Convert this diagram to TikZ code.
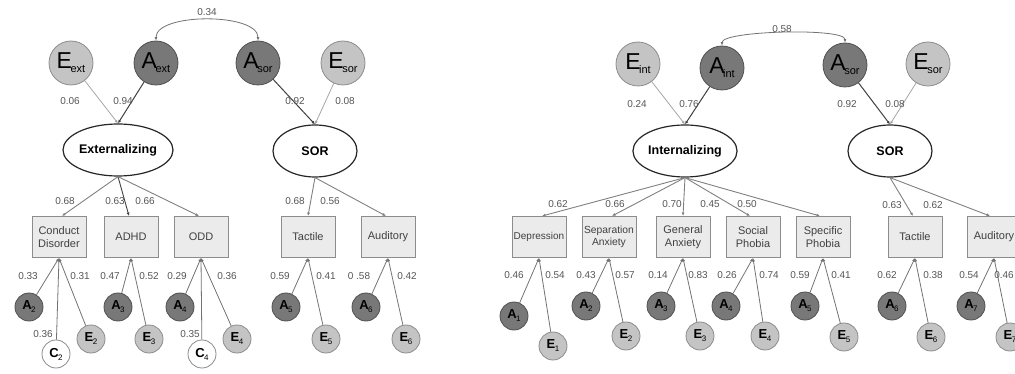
\documentclass[tikz,border=0pt]{standalone}
\usepackage{fontspec}
\setmainfont{Liberation Sans}
\usetikzlibrary{arrows.meta,shapes.geometric}
\definecolor{efill}{HTML}{C4C4C4}
\definecolor{edraw}{HTML}{8C8C8C}
\definecolor{afill}{HTML}{787878}
\definecolor{adraw}{HTML}{505050}
\definecolor{bfill}{HTML}{EBEBEB}
\definecolor{bdraw}{HTML}{8C8C8C}
\definecolor{labc}{HTML}{555555}
\newcommand{\BigLV}[2]{{\fontsize{23}{23}\selectfont #1}\kern-1.5pt\raisebox{-4pt}{\fontsize{11}{11}\selectfont #2}}
\newcommand{\SmLV}[2]{{\bfseries\fontsize{13}{13}\selectfont #1}\kern-0.5pt\raisebox{-3pt}{\fontsize{8}{8}\selectfont #2}}
\tikzset{
  bigE/.style={circle,draw=edraw,fill=efill,line width=0.8pt,minimum size=44pt,inner sep=0pt},
  bigA/.style={circle,draw=adraw,fill=afill,line width=0.8pt,minimum size=44pt,inner sep=0pt},
  smE/.style={circle,draw=edraw,fill=efill,line width=0.8pt,minimum size=28pt,inner sep=0pt},
  smA/.style={circle,draw=adraw,fill=afill,line width=0.8pt,minimum size=28pt,inner sep=0pt},
  smC/.style={circle,draw=edraw,fill=white,line width=0.8pt,minimum size=28pt,inner sep=0pt},
  latent/.style={ellipse,draw=black!85,fill=white,line width=1.2pt,minimum width=84pt,minimum height=52pt,inner sep=0pt,font=\bfseries\fontsize{12.5}{14}\selectfont},
  obs/.style={rectangle,draw=bdraw,fill=bfill,line width=1pt,minimum width=54pt,minimum height=41pt,inner sep=0pt,align=center,text=black!75,font=\fontsize{11}{13}\selectfont},
  lab/.style={text=labc,font=\fontsize{10}{10}\selectfont,inner sep=0pt},
  tip/.style={-{Latex[length=3.5pt,width=3pt]}},
  epath/.style={tip,draw=black!35,line width=0.8pt},
  apath/.style={tip,draw=black!75,line width=1pt},
  load/.style={tip,draw=black!50,line width=0.9pt},
  resid/.style={tip,draw=black!55,line width=0.8pt},
  corr/.style={{Latex[length=3.5pt,width=3pt]}-{Latex[length=3.5pt,width=3pt]},draw=black!55,line width=0.8pt}
}
\begin{document}
\begin{tikzpicture}[x=1pt,y=-1pt]
\useasboundingbox (0,0) rectangle (1015,374);
\clip (0,0) rectangle (1015,374);

% ================= LEFT PANEL =================
\node[bigE] (Eext) at (71,63) {\BigLV{E}{ext}};
\node[bigA] (Aext) at (156,63) {\BigLV{A}{ext}};
\node[bigA] (AsorL) at (258,63) {\BigLV{A}{sor}};
\node[bigE] (EsorL) at (343,63) {\BigLV{E}{sor}};

\node[latent] (Ext) at (118,150) {Externalizing};
\node[latent] (SORL) at (315,151) {SOR};

\node[obs] (CD) at (59,237) {Conduct\\Disorder};
\node[obs] (ADHD) at (131,237) {ADHD};
\node[obs] (ODD) at (201,237) {ODD};
\node[obs] (TacL) at (308,237) {Tactile};
\node[obs] (AudL) at (388,237) {Auditory};

\node[smA] (LA2) at (29,307) {\SmLV{A}{2}};
\node[smC] (LC2) at (56,354) {\SmLV{C}{2}};
\node[smE] (LE2) at (91,339) {\SmLV{E}{2}};
\node[smA] (LA3) at (118,307) {\SmLV{A}{3}};
\node[smE] (LE3) at (149,339) {\SmLV{E}{3}};
\node[smA] (LA4) at (180,307) {\SmLV{A}{4}};
\node[smC] (LC4) at (202,354) {\SmLV{C}{4}};
\node[smE] (LE4) at (237,339) {\SmLV{E}{4}};
\node[smA] (LA5) at (286,307) {\SmLV{A}{5}};
\node[smE] (LE5) at (326,339) {\SmLV{E}{5}};
\node[smA] (LA6) at (366,307) {\SmLV{A}{6}};
\node[smE] (LE6) at (406,339) {\SmLV{E}{6}};

\draw[corr] (Aext.north) .. controls +(0,-28) and +(0,-28) .. (AsorL.north);
\draw[epath] (Eext) -- (Ext.north);
\draw[apath] (Aext) -- (Ext.north);
\draw[apath] (AsorL) -- (SORL.north);
\draw[epath] (EsorL) -- (SORL.north);

\draw[load] (Ext.south) -- ([xshift=3pt]CD.north);
\draw[load,draw=black!75] (Ext.south) -- ([xshift=-2pt]ADHD.north);
\draw[load] (Ext.south) -- ([xshift=-2pt]ODD.north);
\draw[load] (SORL.south) -- (TacL.north);
\draw[load] (SORL.south) -- ([xshift=-2pt]AudL.north);

\draw[resid] (LA2) -- (CD.south);
\draw[resid] (LC2) -- (CD.south);
\draw[resid] (LE2) -- (CD.south);
\draw[resid] (LA3) -- (ADHD.south);
\draw[resid] (LE3) -- (ADHD.south);
\draw[resid] (LA4) -- (ODD.south);
\draw[resid] (LC4) -- (ODD.south);
\draw[resid] (LE4) -- (ODD.south);
\draw[resid] (LA5) -- (TacL.south);
\draw[resid] (LE5) -- (TacL.south);
\draw[resid] (LA6) -- (AudL.south);
\draw[resid] (LE6) -- (AudL.south);

\node[lab] (l1) at (207,12) {0.34};
\node[lab] (l2) at (70,101) {0.06};
\node[lab] (l3) at (123,101) {0.94};
\node[lab] (l4) at (295,101) {0.92};
\node[lab] (l5) at (345,101) {0.08};
\node[lab] (l6) at (65,201) {0.68};
\node[lab] (l7) at (115,201) {0.63};
\node[lab] (l8) at (145,201) {0.66};
\node[lab] (l9) at (295,201) {0.68};
\node[lab] (l10) at (330,201) {0.56};
\node[lab] (l11) at (28,276) {0.33};
\node[lab] (l12) at (80,276) {0.31};
\node[lab] (l13) at (110,276) {0.47};
\node[lab] (l14) at (149,276) {0.52};
\node[lab] (l15) at (177,276) {0.29};
\node[lab] (l16) at (227,276) {0.36};
\node[lab] (l17) at (280,276) {0.59};
\node[lab] (l18) at (326,276) {0.41};
\node[lab] (l19) at (359,276) {0 .58};
\node[lab] (l20) at (407,276) {0.42};
\node[lab] (l21) at (43,334) {0.36};
\node[lab] (l22) at (190,334) {0.35};

% ================= RIGHT PANEL =================
\node[bigE] (Eint) at (638,64) {\BigLV{E}{int}};
\node[bigA] (Aint) at (722,68) {\BigLV{A}{int}};
\node[bigA] (AsorR) at (845,65) {\BigLV{A}{sor}};
\node[bigE] (EsorR) at (928,64) {\BigLV{E}{sor}};

\node[latent] (Int) at (685,151) {Internalizing};
\node[latent] (SORR) at (890,151) {SOR};

\node[obs,font=\fontsize{10}{12}\selectfont] (Dep) at (539,237) {Depression};
\node[obs,font=\fontsize{10.3}{12.5}\selectfont] (Sep) at (609,237) {Separation\\Anxiety};
\node[obs] (Gen) at (683,237) {General\\Anxiety};
\node[obs] (Soc) at (753,237) {Social\\Phobia};
\node[obs] (Spe) at (823,237) {Specific\\Phobia};
\node[obs] (TacR) at (915,237) {Tactile};
\node[obs] (AudR) at (994,237) {Auditory};

\node[smA] (RA1) at (514,316) {\SmLV{A}{1}};
\node[smE] (RE1) at (553,346) {\SmLV{E}{1}};
\node[smA] (RA2) at (586,306) {\SmLV{A}{2}};
\node[smE] (RE2) at (626,336) {\SmLV{E}{2}};
\node[smA] (RA3) at (661,306) {\SmLV{A}{3}};
\node[smE] (RE3) at (700,336) {\SmLV{E}{3}};
\node[smA] (RA4) at (726,306) {\SmLV{A}{4}};
\node[smE] (RE4) at (765,336) {\SmLV{E}{4}};
\node[smA] (RA5) at (805,306) {\SmLV{A}{5}};
\node[smE] (RE5) at (844,337) {\SmLV{E}{5}};
\node[smA] (RA6) at (892,306) {\SmLV{A}{6}};
\node[smE] (RE6) at (931,337) {\SmLV{E}{6}};
\node[smA] (RA7) at (971,306) {\SmLV{A}{7}};
\node[smE] (RE7) at (1010,337) {\SmLV{E}{7}};

\draw[corr] (Aint.north) .. controls +(0,-15) and +(0,-15) .. (AsorR.north);
\draw[epath] (Eint) -- (Int.north);
\draw[apath] (Aint) -- (Int.north);
\draw[apath] (AsorR) -- (SORR.north);
\draw[epath] (EsorR) -- (SORR.north);

\draw[load] (Int.south) -- ([xshift=3pt]Dep.north);
\draw[load] (Int.south) -- ([xshift=3pt]Sep.north);
\draw[load] (Int.south) -- (Gen.north);
\draw[load] (Int.south) -- ([xshift=-3pt]Soc.north);
\draw[load] (Int.south) -- ([xshift=-3pt]Spe.north);
\draw[load] (SORR.south) -- ([xshift=-2pt]TacR.north);
\draw[load] (SORR.south) -- ([xshift=-4pt]AudR.north);

\draw[resid] (RA1) -- (Dep.south);
\draw[resid] (RE1) -- (Dep.south);
\draw[resid] (RA2) -- (Sep.south);
\draw[resid] (RE2) -- (Sep.south);
\draw[resid] (RA3) -- (Gen.south);
\draw[resid] (RE3) -- (Gen.south);
\draw[resid] (RA4) -- (Soc.south);
\draw[resid] (RE4) -- (Soc.south);
\draw[resid] (RA5) -- (Spe.south);
\draw[resid] (RE5) -- (Spe.south);
\draw[resid] (RA6) -- (TacR.south);
\draw[resid] (RE6) -- (TacR.south);
\draw[resid] (RA7) -- (AudR.south);
\draw[resid] (RE7) -- (AudR.south);

\node[lab] (r1) at (782,29) {0.58};
\node[lab] (r2) at (637,104) {0.24};
\node[lab] (r3) at (689,104) {0.76};
\node[lab] (r4) at (847,104) {0.92};
\node[lab] (r5) at (895,104) {0.08};
\node[lab] (r6) at (558,204) {0.62};
\node[lab] (r7) at (615,204) {0.66};
\node[lab] (r8) at (672,204) {0.70};
\node[lab] (r9) at (710,204) {0.45};
\node[lab] (r10) at (747,204) {0.50};
\node[lab] (r11) at (892,205) {0.63};
\node[lab] (r12) at (933,205) {0.62};
\node[lab] (r13) at (514,275) {0.46};
\node[lab] (r14) at (555,275) {0.54};
\node[lab] (r15) at (586,275) {0.43};
\node[lab] (r16) at (625,275) {0.57};
\node[lab] (r17) at (658,275) {0.14};
\node[lab] (r18) at (698,275) {0.83};
\node[lab] (r19) at (727,275) {0.26};
\node[lab] (r20) at (769,275) {0.74};
\node[lab] (r21) at (800,275) {0.59};
\node[lab] (r22) at (841,275) {0.41};
\node[lab] (r23) at (887,275) {0.62};
\node[lab] (r24) at (933,275) {0.38};
\node[lab] (r25) at (969,275) {0.54};
\node[lab] (r26) at (1004,275) {0.46};
\end{tikzpicture}
\end{document}
